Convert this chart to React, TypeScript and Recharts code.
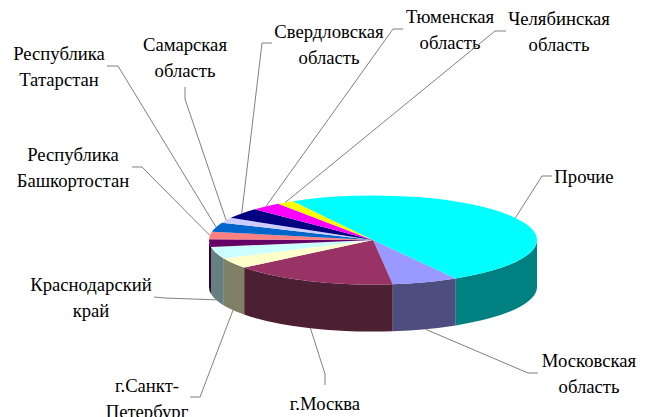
import React from "react";
import { PieChart, Pie } from "recharts";

// regions, clockwise from the front of the pie; index 4 has no label in the picture
const categories = [
  "Московская\nобласть",
  "г.Москва",
  "г.Санкт-\nПетербург",
  "Краснодарский\nкрай",
  "",
  "Республика\nБашкортостан",
  "Республика\nТатарстан",
  "Самарская\nобласть",
  "Свердловская\nобласть",
  "Тюменская\nобласть",
  "Челябинская\nобласть",
  "Прочие",
];
const shares = [6.5, 16.3, 3.8, 4.3, 2.8, 2.7, 3.4, 1.9, 3.9, 3.0, 1.7, 49.7];

// top colour, side colour
const topColors = [
  "#9999ff", "#993366", "#ffffcc", "#ccffff", "#660066", "#ff8080",
  "#0066cc", "#ccccff", "#000080", "#ff00ff", "#ffff00", "#00ffff",
];
const sideColors = [
  "#4d4d80", "#4d1f33", "#808066", "#668080", "#330033", "#804040",
  "#003366", "#666680", "#000040", "#800080", "#808000", "#008080",
];

const chartData = categories.map((name, i) => ({ name, value: shares[i], fill: topColors[i] }));

const CX = 373;
const CY = 240;
const RX = 164;
const RY = 44.5;
const DEPTH = 47;
const START = -59.7; // recharts angle, y up

// where each label sits: leader goes anchor -> elbow -> end, text centred on tx
const labelLayout = [
  { elbow: [528, 373], end: [538, 373], tx: 589, ty: 360 },
  { elbow: [325, 374], end: [325, 385], tx: 325, ty: 403 },
  { elbow: [200, 397], end: [190, 397], tx: 147, ty: 385 },
  { elbow: [165, 298], end: [154, 297], tx: 91, ty: 284 },
  null,
  { elbow: [142, 167], end: [132, 167], tx: 73, ty: 154 },
  { elbow: [118, 66], end: [107, 66], tx: 59, ty: 53 },
  { elbow: [185, 99], end: [185, 87], tx: 185, ty: 44 },
  { elbow: [262, 43], end: [272, 43], tx: 329, ty: 31 },
  { elbow: [393, 29], end: [403, 29], tx: 450, ty: 16 },
  { elbow: [495, 31], end: [506, 31], tx: 559, ty: 18 },
  { elbow: [542, 176], end: [552, 176], tx: 584, ty: 176 },
];

const LINE_GAP = 26;

function pt(deg: number, drop = 0) {
  const r = (deg * Math.PI) / 180;
  return [CX + RX * Math.cos(r), CY + RY * Math.sin(r) + drop];
}

function wallPath(a: number, b: number) {
  const p1 = pt(a);
  const p2 = pt(b);
  const p3 = pt(b, DEPTH);
  const p4 = pt(a, DEPTH);
  return (
    `M${p1[0]},${p1[1]} A${RX},${RY} 0 0 1 ${p2[0]},${p2[1]} ` +
    `L${p3[0]},${p3[1]} A${RX},${RY} 0 0 0 ${p4[0]},${p4[1]} Z`
  );
}

// flat ellipse slice with the part of its side wall that faces the viewer
function Slice3D(props: any) {
  const { startAngle, endAngle, fill, index } = props;
  const t1 = -startAngle;
  const t2 = -endAngle;
  const a = pt(t1);
  const b = pt(t2);
  const large = t2 - t1 > 180 ? 1 : 0;
  const top = `M${CX},${CY} L${a[0]},${a[1]} A${RX},${RY} 0 ${large} 1 ${b[0]},${b[1]} Z`;
  const walls: string[] = [];
  for (const [lo, hi] of [[0, 180], [360, 540]]) {
    const from = Math.max(t1, lo);
    const to = Math.min(t2, hi);
    if (to > from) walls.push(wallPath(from, to));
  }
  return (
    <g>
      {walls.map((d) => (
        <path key={d} d={d} fill={sideColors[index]} />
      ))}
      <path d={top} fill={fill} />
    </g>
  );
}

function renderLabel(props: any) {
  const { index, midAngle, name } = props;
  const layout = labelLayout[index];
  if (!layout) return null;
  const t = ((-midAngle % 360) + 360) % 360;
  const anchor = pt(t, t < 180 ? DEPTH : 0);
  const points = [anchor, layout.elbow, layout.end].map((p) => p.join(",")).join(" ");
  return (
    <g key={index}>
      <polyline points={points} fill="none" stroke="#808080" strokeWidth={1} />
      <text
        x={layout.tx}
        y={layout.ty}
        textAnchor="middle"
        fontFamily="'Liberation Serif', serif"
        fontSize={18.67}
        fill="#000"
      >
        {String(name)
          .split("\n")
          .map((line, i) => (
            <tspan key={i} x={layout.tx} y={layout.ty + i * LINE_GAP} dominantBaseline="central">
              {line}
            </tspan>
          ))}
      </text>
    </g>
  );
}

export default function App() {
  return (
    <div style={{ position: "absolute", left: 0, top: 0, width: 647, height: 417, background: "#fff" }}>
      <PieChart width={647} height={417} margin={{ top: 0, right: 0, bottom: 0, left: 0 }}>
        <Pie
          data={chartData}
          dataKey="value"
          nameKey="name"
          cx={CX}
          cy={CY}
          innerRadius={0}
          outerRadius={RX}
          startAngle={START}
          endAngle={START - 360}
          shape={Slice3D}
          label={renderLabel}
          labelLine={false}
          stroke="none"
          isAnimationActive={false}
        />
      </PieChart>
    </div>
  );
}
